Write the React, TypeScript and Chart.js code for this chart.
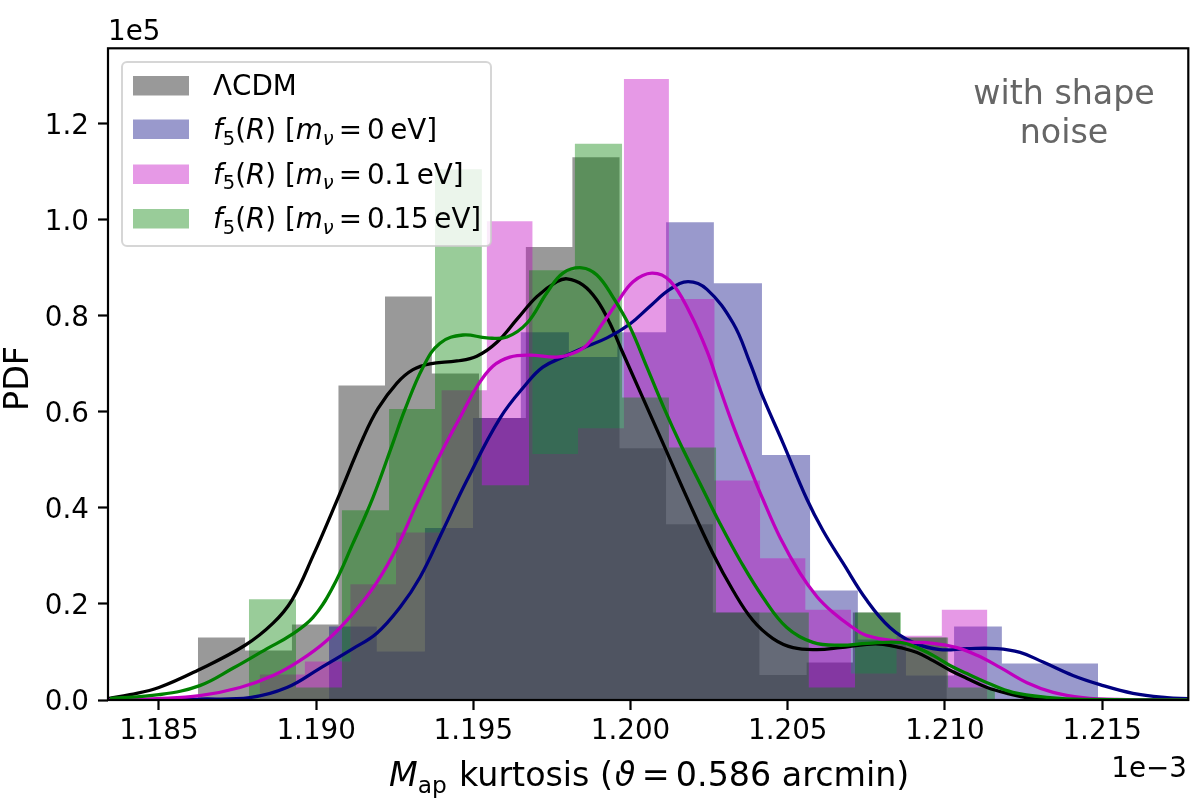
import { useEffect, useRef } from "react"
import { Chart, registerables } from "chart.js"

Chart.register(...registerables)

const xTicks = [1.185, 1.19, 1.195, 1.2, 1.205, 1.21, 1.215]
const yTicks = [0, 0.2, 0.4, 0.6, 0.8, 1.0, 1.2]

// histogram bin edges (last one closes the last bar) and heights, in 1e-3 and 1e5 units
const lcdmEdges = [1.18624, 1.18774, 1.18923, 1.19071, 1.19219, 1.19368, 1.19518, 1.19667, 1.19815, 1.19965, 1.20113, 1.20262, 1.2041, 1.2056, 1.20707, 1.20857, 1.21006]
const lcdmHeights = [0.13, 0.103, 0.157, 0.655, 0.84, 0.68, 0.587, 0.943, 1.13, 0.524, 0.366, 0.182, 0.052, 0.078, 0.182, 0.13]

const nu0Edges = [1.19041, 1.19193, 1.19346, 1.19499, 1.19651, 1.19804, 1.19958, 1.20113, 1.20265, 1.20418, 1.20571, 1.20723, 1.20876, 1.21029, 1.21181, 1.21334, 1.21487]
const nu0Heights = [0.153, 0.101, 0.358, 0.587, 0.766, 0.714, 0.766, 0.995, 0.868, 0.51, 0.228, 0.126, 0.051, 0.153, 0.076, 0.076]

const nu01Edges = [1.1882, 1.18964, 1.19109, 1.19254, 1.19399, 1.19543, 1.19688, 1.19833, 1.19979, 1.20122, 1.20267, 1.20412, 1.20556, 1.20701, 1.20846, 1.2099, 1.21135]
const nu01Heights = [0.053, 0.08, 0.241, 0.349, 0.645, 0.997, 0.512, 0.566, 1.293, 0.835, 0.457, 0.295, 0.188, 0.055, 0.134, 0.188]

const nu015Edges = [1.18786, 1.18936, 1.19082, 1.19232, 1.19378, 1.19527, 1.19677, 1.19823, 1.19973, 1.20122, 1.20272, 1.20418, 1.20567, 1.20714, 1.2086, 1.2101, 1.21159]
const nu015Heights = [0.21, 0.026, 0.395, 0.606, 1.105, 0.447, 0.895, 1.158, 0.63, 0.526, 0.182, 0.182, 0.026, 0.182, 0.13, 0.026]

// KDE curves
const lcdmKdeX = [1.18338, 1.18408, 1.185, 1.18624, 1.18774, 1.18863, 1.18923, 1.1899, 1.19069, 1.19149, 1.19197, 1.19257, 1.19308, 1.19362, 1.19448, 1.19511, 1.19575, 1.19639, 1.19702, 1.19766, 1.19798, 1.19849, 1.19893, 1.19934, 1.19976, 1.20103, 1.20179, 1.20262, 1.20326, 1.20389, 1.20453, 1.20517, 1.20593, 1.20666, 1.20752, 1.20803, 1.20857, 1.20911, 1.20962, 1.21016, 1.2107, 1.21134, 1.21197, 1.2128, 1.21388, 1.21774]
const lcdmKdeY = [0.003, 0.011, 0.026, 0.062, 0.114, 0.16, 0.208, 0.3, 0.42, 0.545, 0.607, 0.66, 0.688, 0.7, 0.706, 0.716, 0.745, 0.793, 0.84, 0.871, 0.877, 0.864, 0.833, 0.785, 0.722, 0.535, 0.422, 0.305, 0.228, 0.166, 0.128, 0.109, 0.105, 0.109, 0.116, 0.116, 0.109, 0.099, 0.082, 0.062, 0.045, 0.026, 0.014, 0.003, 0, 0]

const nu0KdeX = [1.18338, 1.1863, 1.18789, 1.18907, 1.19012, 1.19117, 1.19193, 1.19267, 1.1933, 1.19403, 1.1948, 1.19585, 1.19671, 1.19721, 1.19785, 1.19849, 1.19925, 1.19998, 1.20062, 1.20125, 1.20183, 1.20243, 1.20326, 1.2038, 1.20421, 1.20485, 1.20561, 1.20612, 1.20676, 1.20752, 1.20825, 1.20898, 1.20984, 1.2107, 1.21165, 1.21239, 1.21312, 1.21407, 1.21493, 1.21598, 1.21706, 1.21774]
const nu0KdeY = [0, 0.002, 0.005, 0.026, 0.066, 0.107, 0.139, 0.193, 0.255, 0.353, 0.458, 0.587, 0.66, 0.693, 0.714, 0.733, 0.754, 0.783, 0.82, 0.855, 0.871, 0.855, 0.785, 0.702, 0.631, 0.535, 0.418, 0.353, 0.285, 0.207, 0.151, 0.12, 0.105, 0.107, 0.107, 0.099, 0.079, 0.051, 0.032, 0.014, 0.005, 0.003]

const nu01KdeX = [1.18338, 1.18494, 1.1863, 1.18758, 1.18863, 1.18948, 1.19034, 1.19117, 1.19193, 1.19257, 1.19321, 1.19394, 1.19464, 1.19511, 1.19562, 1.19616, 1.1968, 1.19766, 1.19817, 1.19861, 1.19912, 1.19957, 1.20008, 1.20068, 1.20125, 1.20189, 1.20243, 1.20284, 1.20326, 1.2038, 1.20421, 1.20475, 1.20539, 1.20593, 1.20644, 1.20698, 1.20752, 1.20857, 1.20962, 1.21038, 1.21102, 1.21175, 1.21261, 1.21344, 1.21439, 1.21547, 1.21774]
const nu01KdeY = [0, 0.003, 0.009, 0.026, 0.051, 0.082, 0.124, 0.18, 0.245, 0.318, 0.41, 0.51, 0.596, 0.652, 0.695, 0.714, 0.718, 0.714, 0.722, 0.739, 0.785, 0.827, 0.871, 0.889, 0.873, 0.806, 0.727, 0.649, 0.572, 0.483, 0.418, 0.339, 0.264, 0.215, 0.182, 0.155, 0.134, 0.122, 0.118, 0.109, 0.093, 0.068, 0.036, 0.016, 0.005, 0.001, 0]

const nu015KdeX = [1.18344, 1.185, 1.1863, 1.18735, 1.18844, 1.18917, 1.1899, 1.19053, 1.19117, 1.19181, 1.19244, 1.19282, 1.1934, 1.19394, 1.19467, 1.19543, 1.19607, 1.19671, 1.19734, 1.19785, 1.19845, 1.19893, 1.19944, 1.19998, 1.20052, 1.20109, 1.20157, 1.20221, 1.20284, 1.20348, 1.20421, 1.20497, 1.2058, 1.20666, 1.20752, 1.20857, 1.20911, 1.20962, 1.21016, 1.2107, 1.21134, 1.21216, 1.21334, 1.21439, 1.21774]
const nu015KdeY = [0.003, 0.011, 0.03, 0.066, 0.107, 0.134, 0.172, 0.235, 0.326, 0.422, 0.535, 0.604, 0.693, 0.743, 0.76, 0.754, 0.756, 0.785, 0.848, 0.889, 0.9, 0.885, 0.839, 0.777, 0.693, 0.604, 0.535, 0.451, 0.368, 0.291, 0.214, 0.151, 0.12, 0.114, 0.118, 0.12, 0.109, 0.093, 0.072, 0.055, 0.036, 0.016, 0.005, 0.001, 0]

const FONT = "'DejaVu Sans'"
const GRAY = "rgba(0,0,0,0.4)"
const NAVY = "rgba(0,0,128,0.4)"
const MAGENTA = "rgba(192,0,192,0.4)"
const GREEN = "rgba(0,128,0,0.4)"

type Seg = { t: string; italic?: boolean; sub?: boolean; gap?: number }

// matplotlib mathtext look: runs of text with italics, subscripts and small gaps
function drawRich(ctx: CanvasRenderingContext2D, segs: Seg[], x: number, y: number, size: number) {
  let cx = x
  for (const s of segs) {
    const px = s.sub ? size * 0.7 : size
    ctx.font = `${s.italic ? "italic " : ""}${px}px ${FONT}`
    cx += (s.gap ?? 0) * size
    ctx.fillText(s.t, cx, s.sub ? y + size * 0.2 : y)
    cx += ctx.measureText(s.t).width + (s.gap ?? 0) * size
  }
  return cx
}

function f5Label(mass: string): Seg[] {
  return [
    { t: "f", italic: true },
    { t: "5", sub: true },
    { t: "(" },
    { t: "R", italic: true },
    { t: ") [" },
    { t: "m", italic: true },
    { t: "ν", italic: true, sub: true },
    { t: "=", gap: 0.18 },
    { t: mass },
    { t: "\u2009eV]" },
  ]
}

const legendRows: { color: string; segs: Seg[]; top: number; baseline: number }[] = [
  { color: GRAY, segs: [{ t: "ΛCDM" }], top: 76, baseline: 95 },
  { color: NAVY, segs: f5Label("0"), top: 119.5, baseline: 139 },
  { color: MAGENTA, segs: f5Label("0.1"), top: 164.5, baseline: 183.5 },
  { color: GREEN, segs: f5Label("0.15"), top: 209, baseline: 228 },
]

const decorations = {
  id: "decorations",
  afterDatasetsDraw(chart: Chart) {
    const ctx = chart.ctx
    const { left, right, top, bottom } = chart.chartArea
    ctx.save()

    // legend box sits over the bars with a translucent face
    ctx.beginPath()
    ctx.roundRect(122, 62, 369, 184, 5)
    ctx.fillStyle = "rgba(255,255,255,0.8)"
    ctx.fill()
    ctx.lineWidth = 2
    ctx.strokeStyle = "rgba(204,204,204,0.8)"
    ctx.stroke()
    ctx.textBaseline = "alphabetic"
    ctx.textAlign = "left"
    for (const row of legendRows) {
      ctx.fillStyle = row.color
      ctx.fillRect(133, row.top, 56, 19.5)
      ctx.fillStyle = "#000"
      drawRich(ctx, row.segs, 213, row.baseline, 27.78)
    }

    // frame
    ctx.strokeStyle = "#000"
    ctx.lineWidth = 2.2
    ctx.strokeRect(left, top, right - left, bottom - top)

    // annotation
    ctx.fillStyle = "#666"
    ctx.font = `33.3px ${FONT}`
    ctx.textAlign = "center"
    ctx.fillText("with shape", 1064, 104)
    ctx.fillText("noise", 1064, 142.5)

    // offset texts
    ctx.fillStyle = "#000"
    ctx.font = `27.78px ${FONT}`
    ctx.textAlign = "left"
    ctx.fillText("1e5", 108, 39.5)
    ctx.textAlign = "right"
    ctx.fillText("1e\u22123", 1187, 777)

    // axis titles
    ctx.textAlign = "left"
    drawRich(
      ctx,
      [
        { t: "M", italic: true },
        { t: "ap", sub: true },
        { t: " kurtosis (", gap: 0.05 },
        { t: "ϑ", italic: true },
        { t: "=", gap: 0.19 },
        { t: "0.586 arcmin)" },
      ],
      389,
      786,
      33.3
    )
    ctx.translate(27.5, 378.5)
    ctx.rotate(-Math.PI / 2)
    ctx.textAlign = "center"
    ctx.font = `33.3px ${FONT}`
    ctx.fillText("PDF", 0, 0)
    ctx.restore()
  },
}

function histDataset(edges: number[], heights: number[], color: string, order: number) {
  return {
    type: "line" as const,
    data: edges.map((x, i) => ({ x, y: i < heights.length ? heights[i] : 0 })),
    stepped: "before" as const,
    fill: "origin",
    backgroundColor: color,
    borderWidth: 0,
    pointRadius: 0,
    order,
  }
}

function kdeDataset(xs: number[], ys: number[], color: string, order: number) {
  return {
    type: "line" as const,
    data: xs.map((x, i) => ({ x, y: ys[i] })),
    borderColor: color,
    borderWidth: 3.3,
    tension: 0.4,
    fill: false,
    pointRadius: 0,
    order,
  }
}

export default function App() {
  const chartRef = useRef<HTMLCanvasElement>(null)

  useEffect(() => {
    if (!chartRef.current) return

    const chart = new Chart(chartRef.current, {
      type: "line",
      data: {
        datasets: [
          histDataset(lcdmEdges, lcdmHeights, GRAY, 8),
          histDataset(nu0Edges, nu0Heights, NAVY, 7),
          histDataset(nu01Edges, nu01Heights, MAGENTA, 6),
          histDataset(nu015Edges, nu015Heights, GREEN, 5),
          kdeDataset(lcdmKdeX, lcdmKdeY, "#000000", 4),
          kdeDataset(nu0KdeX, nu0KdeY, "#000080", 3),
          kdeDataset(nu01KdeX, nu01KdeY, "#bf00bf", 2),
          kdeDataset(nu015KdeX, nu015KdeY, "#008000", 1),
        ] as any,
      },
      options: {
        responsive: false,
        animation: false,
        devicePixelRatio: 1,
        layout: { padding: { top: 48.3, right: 11.7, left: 0, bottom: 0 } },
        plugins: { legend: { display: false }, tooltip: { enabled: false } },
        scales: {
          x: {
            type: "linear",
            min: 1.18338,
            max: 1.21774,
            afterFit: (scale: any) => {
              scale.height = 100
            },
            afterBuildTicks: (scale: any) => {
              scale.ticks = xTicks.map((value) => ({ value }))
            },
            border: { display: false },
            grid: { drawOnChartArea: false, tickLength: 10, tickWidth: 2.2, tickColor: "#000" },
            ticks: {
              color: "#000",
              font: { family: FONT, size: 27.78 },
              padding: 5,
              maxRotation: 0,
              autoSkip: false,
              callback: (v: any) => Number(v).toFixed(3),
            },
          },
          y: {
            min: 0,
            max: 1.357,
            afterFit: (scale: any) => {
              scale.width = 108
            },
            afterBuildTicks: (scale: any) => {
              scale.ticks = yTicks.map((value) => ({ value }))
            },
            border: { display: false },
            grid: { drawOnChartArea: false, tickLength: 10, tickWidth: 2.2, tickColor: "#000" },
            ticks: {
              color: "#000",
              font: { family: FONT, size: 27.78 },
              padding: 9,
              labelOffset: 3,
              autoSkip: false,
              callback: (v: any) => Number(v).toFixed(1),
            },
          },
        },
      },
      plugins: [decorations],
    })

    return () => {
      chart.destroy()
    }
  }, [])

  return (
    <div style={{ position: "fixed", left: 0, top: 0, width: 1200, height: 800, background: "#fff" }}>
      <canvas ref={chartRef} width={1200} height={800} style={{ display: "block" }} />
    </div>
  )
}
